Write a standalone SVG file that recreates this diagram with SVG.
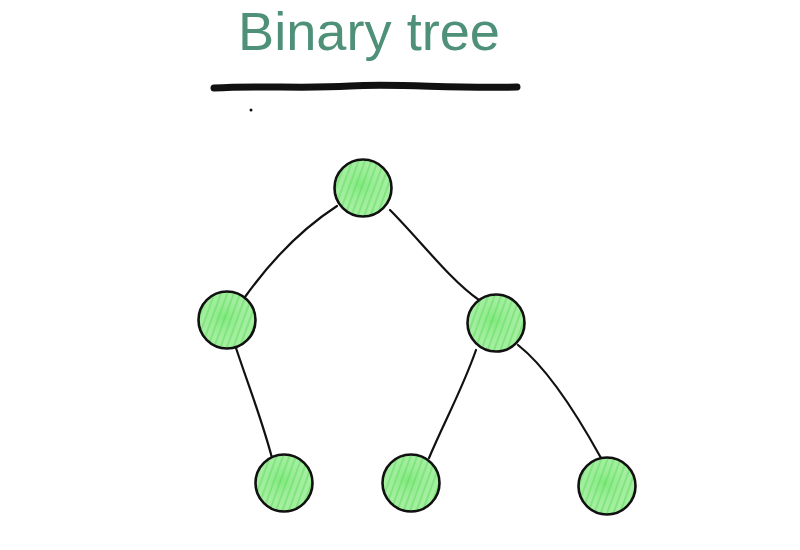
<svg xmlns="http://www.w3.org/2000/svg" width="800" height="550" viewBox="0 0 800 550">
<defs>
<pattern id="hatch" width="6" height="6" patternUnits="userSpaceOnUse" patternTransform="rotate(20)">
<rect width="6" height="6" fill="#a3ee9f"/>
<line x1="2" y1="0" x2="2" y2="6" stroke="#6ee06a" stroke-width="2" opacity="0.7"/>
</pattern>
<radialGradient id="glow" cx="0.45" cy="0.45" r="0.6">
<stop offset="0" stop-color="#4ee04e" stop-opacity="0.4"/>
<stop offset="1" stop-color="#c8f4c8" stop-opacity="0"/>
</radialGradient>
</defs>
<style>
.node circle.f{fill:url(#hatch);stroke:#111;stroke-width:2.6}
.node circle.g{fill:url(#glow)}
.edge{fill:none;stroke:#111;stroke-width:2.2;stroke-linecap:round}
.title{font-family:"Liberation Sans",Arial,sans-serif;font-size:54px;fill:#4e9078}
</style>
<rect width="800" height="550" fill="#ffffff"/>
<text class="title" x="238" y="50" textLength="262" lengthAdjust="spacingAndGlyphs">Binary tree</text>
<path d="M214,88 C260,85 300,89 350,86 S450,89 517,87" fill="none" stroke="#111" stroke-width="7" stroke-linecap="round"/>
<circle cx="251" cy="110" r="1.5" fill="#111"/>
<g id="connectors">
<path class="edge" d="M337,206 C300,230 270,262 245,297"/>
<path class="edge" d="M390,210 C420,240 450,280 479,300"/>
<path class="edge" d="M236,348 C250,390 262,420 272,458"/>
<path class="edge" d="M476,350 C462,390 445,420 429,458"/>
<path class="edge" d="M518,345 C550,370 580,420 601,458"/>
</g>
<g id="n-root" class="node"><circle class="f" cx="363" cy="188" r="28.5"/><circle class="g" cx="363" cy="188" r="27"/></g>
<g id="n-left" class="node"><circle class="f" cx="227" cy="320" r="28.5"/><circle class="g" cx="227" cy="320" r="27"/></g>
<g id="n-right" class="node"><circle class="f" cx="496" cy="323" r="28.5"/><circle class="g" cx="496" cy="323" r="27"/></g>
<g id="n-ll" class="node"><circle class="f" cx="284" cy="483" r="28.5"/><circle class="g" cx="284" cy="483" r="27"/></g>
<g id="n-rl" class="node"><circle class="f" cx="411" cy="483" r="28.5"/><circle class="g" cx="411" cy="483" r="27"/></g>
<g id="n-rr" class="node"><circle class="f" cx="607" cy="486" r="28.5"/><circle class="g" cx="607" cy="486" r="27"/></g>
</svg>
